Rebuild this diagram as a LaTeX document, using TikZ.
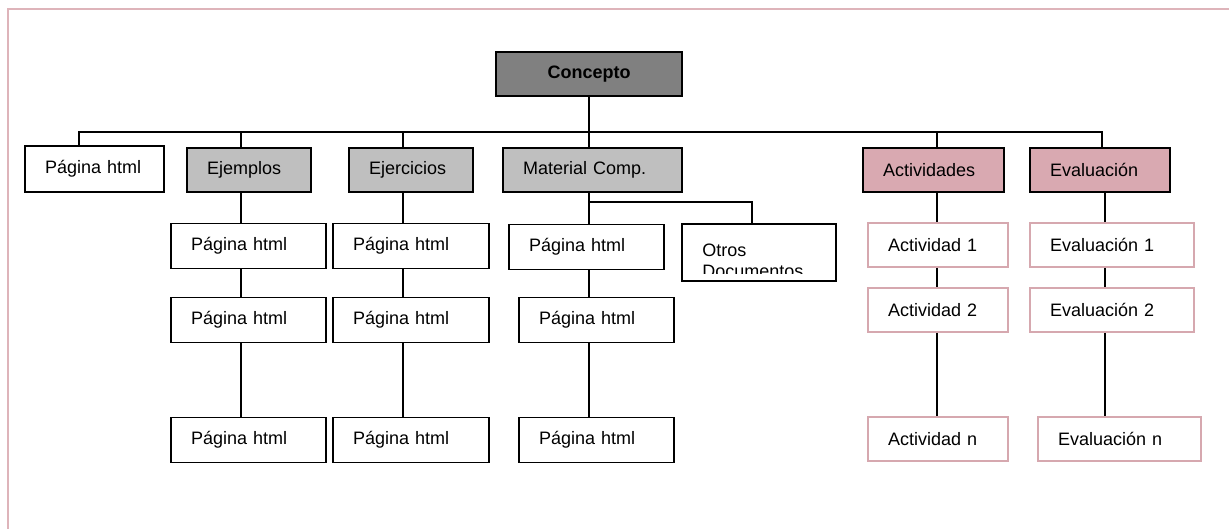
\documentclass[tikz,border=0pt]{standalone}
\usepackage{fontspec}
\setmainfont{Liberation Sans}
\definecolor{rosa}{RGB}{217,169,177}
\definecolor{rosaborde}{RGB}{214,168,175}
\definecolor{marco}{RGB}{222,180,186}
\begin{document}
\begin{tikzpicture}[
        x=1pt, y=-1pt,
        caja/.style={rectangle, draw, line width=1.8pt, inner sep=0pt, minimum height=45pt, align=left, font=\fontsize{18}{21}\selectfont},
        ancho/.code={\pgfmathsetmacro\anchotexto{#1-40}\tikzset{minimum width=#1pt, text width=\anchotexto pt}},
        titulo/.style={caja, fill=black!25, minimum height=44pt},
        tarea/.style={caja, fill=rosa, minimum height=44pt},
        hoja/.style={caja, draw=rosaborde, line width=1.8pt, minimum height=44pt},
        linea/.style={line width=1.6pt}
    ]
        \useasboundingbox (0,0) rectangle (1229,529);
        \draw[marco, line width=2pt] (8,529) -- (8,9) -- (1229,9);

        % Concepto
        \node[caja, fill=black!50, minimum width=186pt, minimum height=44pt, align=center, font=\fontsize{18}{21}\selectfont\bfseries] (concepto) at (589,74) {Concepto};
        \coordinate (bus) at (589,132);

        % Primer nivel
        \node[caja, ancho=139, minimum height=46pt] (pag0) at (94.5,169) {Página html};
        \node[titulo, ancho=124] (ejemplos) at (249,170) {Ejemplos};
        \node[titulo, ancho=124] (ejercicios) at (411,170) {Ejercicios};
        \node[titulo, ancho=179] (material) at (592.5,170) {Material Comp.};
        \node[tarea, ancho=141] (actividades) at (933.5,170) {Actividades};
        \node[tarea, ancho=140] (evaluacion) at (1100,170) {Evaluación};

        % Ejemplos
        \node[caja, ancho=155] (ejA) at (248.5,246) {Página html};
        \node[caja, ancho=155] (ejB) at (248.5,320) {Página html};
        \node[caja, ancho=155] (ejC) at (248.5,440) {Página html};

        % Ejercicios
        \node[caja, ancho=156] (exA) at (411,246) {Página html};
        \node[caja, ancho=156] (exB) at (411,320) {Página html};
        \node[caja, ancho=156] (exC) at (411,440) {Página html};

        % Material
        \node[caja, ancho=155] (maA) at (586.5,247) {Página html};
        \node[caja, ancho=155] (maB) at (596.5,320) {Página html};
        \node[caja, ancho=155] (maC) at (596.5,440) {Página html};
        \node[caja, minimum width=154pt, minimum height=57pt, path picture={
            \clip (path picture bounding box.north west) rectangle ([yshift=7pt]path picture bounding box.south east);
            \node[anchor=north west, inner sep=0pt, align=left, font=\fontsize{18}{21}\selectfont] at ([xshift=-7pt, yshift=-7pt]path picture bounding box.north west) {Otros\\Documentos};
        }] (otros) at (759,252.5) {};
        \coordinate (rama) at (589,202);

        % Actividades
        \node[hoja, ancho=140] (acA) at (938,245) {Actividad 1};
        \node[hoja, ancho=140] (acB) at (938,310) {Actividad 2};
        \node[hoja, ancho=140] (acC) at (938,439) {Actividad n};

        % Evaluacion
        \node[hoja, ancho=164] (evA) at (1112,245) {Evaluación 1};
        \node[hoja, ancho=164] (evB) at (1112,310) {Evaluación 2};
        \node[hoja, ancho=163] (evC) at (1119.5,439) {Evaluación n};

        % Conectores
        \draw[linea] (concepto.south) -- (bus);
        \draw[linea] (bus) -- (material.north -| bus);
        \draw[linea] (bus) -| (pag0.north -| 79,0);
        \draw[linea] (bus) -| (ejemplos.north -| 241,0);
        \draw[linea] (bus) -| (ejercicios.north -| 403,0);
        \draw[linea] (bus) -| (actividades.north -| 937,0);
        \draw[linea] (bus) -| (evaluacion.north -| 1102,0);

        \draw[linea] (ejemplos.south -| 241,0) -- (ejA.north -| 241,0);
        \draw[linea] (ejA.south -| 241,0) -- (ejB.north -| 241,0);
        \draw[linea] (ejB.south -| 241,0) -- (ejC.north -| 241,0);

        \draw[linea] (ejercicios.south -| 403,0) -- (exA.north -| 403,0);
        \draw[linea] (exA.south -| 403,0) -- (exB.north -| 403,0);
        \draw[linea] (exB.south -| 403,0) -- (exC.north -| 403,0);

        \draw[linea] (material.south -| rama) -- (maA.north -| rama);
        \draw[linea] (maA.south -| rama) -- (maB.north -| rama);
        \draw[linea] (maB.south -| rama) -- (maC.north -| rama);
        \draw[linea] (rama) -| (otros.north -| 752,0);

        \draw[linea] (actividades.south -| 937,0) -- (acA.north -| 937,0);
        \draw[linea] (acA.south -| 937,0) -- (acB.north -| 937,0);
        \draw[linea] (acB.south -| 937,0) -- (acC.north -| 937,0);

        \draw[linea] (evaluacion.south -| 1105,0) -- (evA.north -| 1105,0);
        \draw[linea] (evA.south -| 1105,0) -- (evB.north -| 1105,0);
        \draw[linea] (evB.south -| 1105,0) -- (evC.north -| 1105,0);
    \end{tikzpicture}
\end{document}
